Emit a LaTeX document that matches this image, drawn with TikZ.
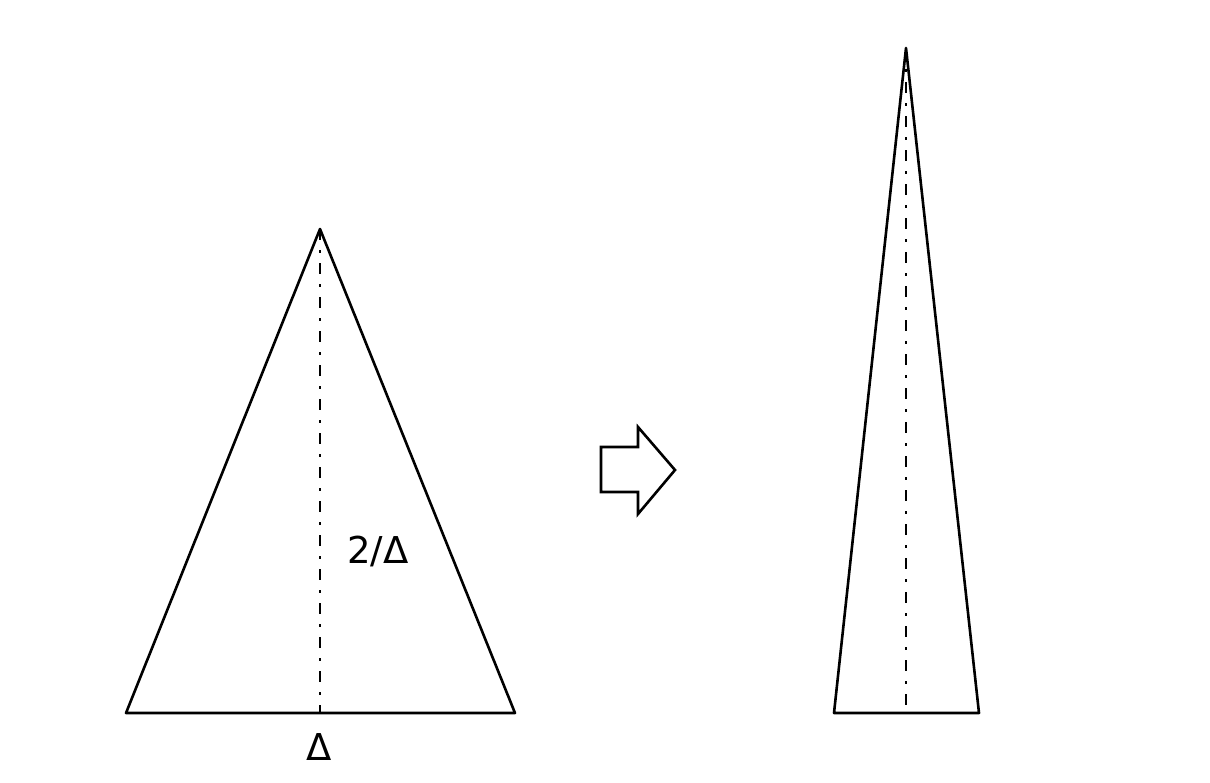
\documentclass[tikz,border=0pt]{standalone}
\usepackage{fontspec}
\setmainfont{DejaVu Sans}
\begin{document}
\begin{tikzpicture}[x=1pt,y=-1pt,
  edge/.style={line width=2.6pt,line join=round},
  axis/.style={line width=2.8pt,dash pattern=on 11pt off 10pt on 3pt off 10pt},
  lbl/.style={font=\fontsize{37}{40}\selectfont,inner sep=0pt}]
\useasboundingbox (0,0) rectangle (1210,782);
% left triangle
\coordinate (la) at (320,229);
\coordinate (lb) at (126,713);
\coordinate (lc) at (515,713);
\coordinate (lm) at (320,713);
\draw[edge] (lb) -- (la) -- (lc) -- cycle;
\draw[axis] (la) -- (lm);
\node[lbl] (h) at (378,551) {2/Δ};
\node[lbl] (d) at (319,747) {Δ};
% arrow
\draw[edge,line join=miter] (601,447) -- (638,447) -- (638,427) -- (675,470) -- (638,514) -- (638,492) -- (601,492) -- cycle;
% right triangle
\coordinate (ra) at (906,48);
\coordinate (rb) at (834,713);
\coordinate (rc) at (979,713);
\coordinate (rm) at (906,713);
\draw[edge] (rb) -- (ra) -- (rc) -- cycle;
\draw[axis] (ra) -- (rm);
\end{tikzpicture}
\end{document}
